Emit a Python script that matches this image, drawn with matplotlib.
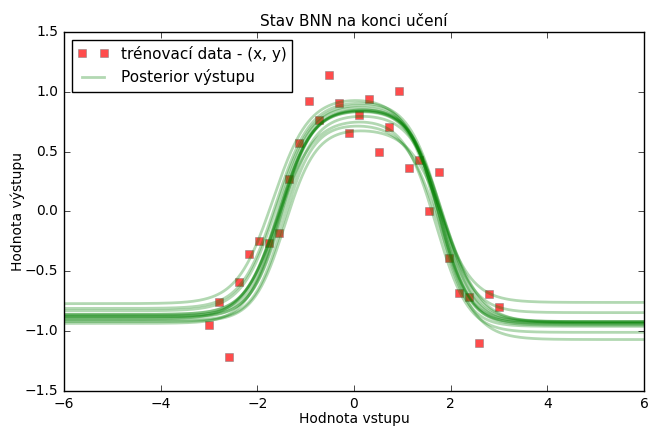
import numpy as np
import matplotlib
matplotlib.use('Agg')
import matplotlib.pyplot as plt

plt.style.use('classic')
plt.rcParams['font.family'] = ['DejaVu Sans']

# training data
x_train = np.linspace(-3, 3, 30)
y_train = [-0.95, -0.76, -1.22, -0.59, -0.355, -0.25, -0.265, -0.18, 0.27, 0.57,
           0.92, 0.765, 1.14, 0.905, 0.66, 0.805, 0.94, 0.50, 0.71, 1.005,
           0.36, 0.43, 0.0, 0.33, -0.39, -0.68, -0.715, -1.10, -0.69, -0.80]

# posterior samples: left level, plateau, right level, edges, steepness
left_lvl = [-0.77, -0.81, -0.83, -0.86, -0.86, -0.87, -0.88, -0.88, -0.89, -0.90, -0.91, -0.92, -0.935]
top_lvl = [0.96, 0.93, 0.91, 0.89, 0.87, 0.86, 0.86, 0.85, 0.82, 0.78, 0.74, 0.70, 0.87]
right_lvl = [-0.76, -0.845, -0.92, -0.92, -0.935, -0.93, -0.95, -0.96, -0.92, -1.01, -1.07, -0.93, -0.94]
left_edge = [-1.68, -1.62, -1.60, -1.56, -1.54, -1.52, -1.56, -1.50, -1.48, -1.58, -1.46, -1.43, -1.54]
right_edge = [1.70, 1.78, 1.74, 1.80, 1.76, 1.82, 1.78, 1.74, 1.86, 1.70, 1.80, 1.90, 1.78]
left_k = [2.7, 2.8, 2.8, 3.0, 2.9, 3.1, 2.9, 3.2, 3.0, 2.7, 3.2, 3.1, 3.0]
right_k = [2.8, 3.0, 3.2, 3.0, 3.3, 3.1, 3.2, 3.4, 2.9, 3.0, 2.8, 2.7, 3.2]


def sig(z):
    return 1.0 / (1.0 + np.exp(-z))


def bump(x, lo, top, ro, c1, c2, k1, k2):
    return lo + (top - lo) * sig(k1 * (x - c1)) - (top - ro) * sig(k2 * (x - c2))


fig = plt.figure(figsize=(6.49, 4.29), dpi=100)
ax = fig.add_axes([0.0986, 0.0886, 0.8937, 0.8368])

xs = np.linspace(-6, 6, 400)
ax.plot(x_train, y_train, 'rs', alpha=0.7, markersize=6, markeredgecolor='grey',
        label='trénovací data - (x, y)')
for i in range(len(left_lvl)):
    ys = bump(xs, left_lvl[i], top_lvl[i], right_lvl[i], left_edge[i], right_edge[i],
              left_k[i], right_k[i])
    ax.plot(xs, ys, 'g', alpha=0.3, linewidth=2,
            label='Posterior výstupu' if i == 0 else None)

ax.set_xlim(-6, 6)
ax.set_ylim(-1.5, 1.5)
ax.tick_params(labelsize=10)
ax.set_xlabel('Hodnota vstupu', fontsize=10, labelpad=1)
ax.set_ylabel('Hodnota výstupu', fontsize=10, labelpad=0)
ax.set_title('Stav BNN na konci učení', fontsize=11, pad=4)
ax.legend(loc='upper left', fontsize=11)

fig.savefig('out.png', dpi=100)
